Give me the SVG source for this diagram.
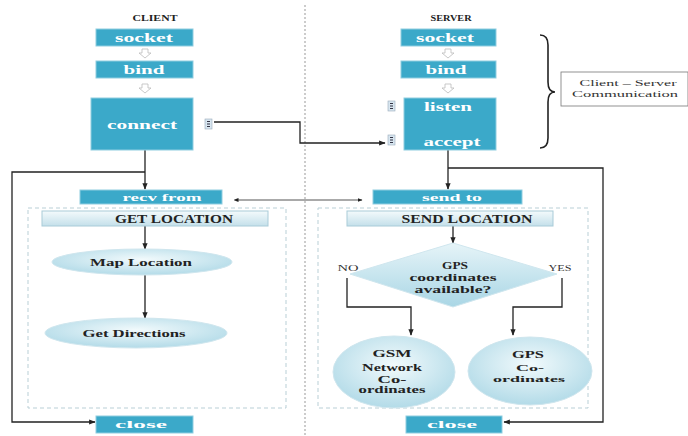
<svg xmlns="http://www.w3.org/2000/svg" width="688" height="436" viewBox="0 0 688 436">
<defs>
<linearGradient id="ban" x1="0" y1="0" x2="0" y2="1"><stop offset="0" stop-color="#f4fafc"/><stop offset="1" stop-color="#c4e0ea"/></linearGradient>
<radialGradient id="ell" cx="0.5" cy="0.4" r="0.6"><stop offset="0" stop-color="#f2fafc"/><stop offset="1" stop-color="#b3dbe8"/></radialGradient>
<linearGradient id="dia" x1="0" y1="0" x2="0" y2="1"><stop offset="0" stop-color="#e6f4f8"/><stop offset="1" stop-color="#a9d6e5"/></linearGradient>
<marker id="ah" viewBox="0 0 10 10" refX="9" refY="5" markerWidth="5" markerHeight="5" orient="auto"><path d="M0,1 L10,5 L0,9 Z" fill="#222"/></marker>
<marker id="ahs" viewBox="0 0 10 10" refX="1" refY="5" markerWidth="5" markerHeight="5" orient="auto-start-reverse"><path d="M0,1 L10,5 L0,9 Z" fill="#222"/></marker>
<g id="port"><rect x="0" y="0" width="7" height="10" fill="#d8e6f0" stroke="#9ab" stroke-width="0.6"/><path d="M2,2.5h3M2,5h3M2,7.5h3" stroke="#334" stroke-width="1"/></g>
<g id="hol"><path d="M-3,0 h6 v4 h3 l-6,5 l-6,-5 h3 z" fill="#fff" stroke="#bbb" stroke-width="0.8"/></g>
</defs>
<style>
.box{fill:#3ba9c9;stroke:#8fcde0;stroke-width:1}
text{font-family:"Liberation Serif",serif;text-anchor:middle}
.bt{font-weight:bold;font-size:12px;fill:#fff}
.lt{font-weight:bold;font-size:10px;fill:#222}
.ht{font-weight:bold;font-size:8px;fill:#222}
.nt{font-size:9px;fill:#333}
.ban{fill:url(#ban);stroke:#a9cbd8;stroke-width:1}
.ell{fill:url(#ell);stroke:#cfe6ee;stroke-width:1}
.cont{fill:none;stroke:#b9cfd6;stroke-width:1;stroke-dasharray:4 3}
.ln{fill:none;stroke:#222;stroke-width:1.3}
</style>
<line x1="305" y1="5" x2="305" y2="436" stroke="#999" stroke-width="1" stroke-dasharray="2 2"/>
<rect class="cont" x="28" y="208" width="258" height="200"/>
<rect class="cont" x="318" y="208" width="270" height="200"/>
<text class="ht" x="155" y="21" textLength="45" lengthAdjust="spacingAndGlyphs">CLIENT</text>
<text class="ht" x="451" y="21" textLength="41" lengthAdjust="spacingAndGlyphs">SERVER</text>
<g id="connectors">
<use href="#hol" x="145" y="49"/>
<use href="#hol" x="145" y="84"/>
<use href="#hol" x="448" y="49"/>
<use href="#hol" x="448" y="84"/>
<path class="ln" d="M214,122 H300 V143 H385" marker-end="url(#ah)"/>
<path class="ln" d="M145,150 V189" marker-end="url(#ah)"/>
<path class="ln" d="M145,172 H12 V422 H95" marker-end="url(#ah)"/>
<path class="ln" d="M448,150 V189" marker-end="url(#ah)"/>
<path class="ln" d="M448,168 H603 V422 H504" marker-end="url(#ah)"/>
<path d="M238,200 H362" fill="none" stroke="#555" stroke-width="1" marker-start="url(#ahs)" marker-end="url(#ah)"/>
<path class="ln" d="M145,226 V249" marker-end="url(#ah)"/>
<path class="ln" d="M145,275 V318" marker-end="url(#ah)"/>
<path class="ln" d="M453,226 V243" marker-end="url(#ah)"/>
<path class="ln" d="M347,278 V307 H411 V335" marker-end="url(#ah)"/>
<path class="ln" d="M562,278 V307 H513 V335" marker-end="url(#ah)"/>
</g>
<g id="c-socket"><rect class="box" x="96" y="29" width="97" height="17"/><text class="bt" x="144" y="42" textLength="58" lengthAdjust="spacingAndGlyphs">socket</text></g>
<g id="c-bind"><rect class="box" x="96" y="61" width="97" height="17"/><text class="bt" x="144" y="74" textLength="41" lengthAdjust="spacingAndGlyphs">bind</text></g>
<g id="c-connect"><rect class="box" x="91" y="98" width="102" height="52"/><text class="bt" x="142" y="129" textLength="70" lengthAdjust="spacingAndGlyphs">connect</text><use href="#port" x="205" y="119"/></g>
<g id="s-socket"><rect class="box" x="401" y="29" width="95" height="17"/><text class="bt" x="445" y="42" textLength="58" lengthAdjust="spacingAndGlyphs">socket</text></g>
<g id="s-bind"><rect class="box" x="401" y="61" width="95" height="17"/><text class="bt" x="446" y="74" textLength="41" lengthAdjust="spacingAndGlyphs">bind</text></g>
<g id="s-listen"><rect class="box" x="404" y="98" width="92" height="52"/><text class="bt" x="448" y="111" textLength="48" lengthAdjust="spacingAndGlyphs">listen</text><text class="bt" x="452" y="146" textLength="57" lengthAdjust="spacingAndGlyphs">accept</text><use href="#port" x="388" y="101"/><use href="#port" x="388" y="135"/></g>
<g id="brace"><path d="M540,35 Q548,35 548,45 V82 Q548,92 555,92 Q548,92 548,102 V138 Q548,148 540,148" fill="none" stroke="#222" stroke-width="1.6"/></g>
<g id="note"><rect x="561" y="72" width="127" height="34" fill="#fff" stroke="#777" stroke-width="0.8"/><text class="nt" x="628" y="86" textLength="97" lengthAdjust="spacingAndGlyphs">Client – Server</text><text class="nt" x="625" y="97" textLength="106" lengthAdjust="spacingAndGlyphs">Communication</text></g>
<g id="c-recv"><rect class="box" x="80" y="190" width="142" height="14"/><text class="bt" x="162" y="201" style="font-size:11px" textLength="79" lengthAdjust="spacingAndGlyphs">recv from</text></g>
<g id="s-send"><rect class="box" x="373" y="190" width="149" height="14"/><text class="bt" x="452" y="201" style="font-size:11px" textLength="60" lengthAdjust="spacingAndGlyphs">send to</text></g>
<g id="get-loc"><rect class="ban" x="42" y="211" width="226" height="15"/><text class="lt" x="174" y="223" style="font-size:12px" textLength="118" lengthAdjust="spacingAndGlyphs">GET LOCATION</text></g>
<g id="send-loc"><rect class="ban" x="347" y="211" width="206" height="15"/><text class="lt" x="467" y="223" style="font-size:12px" textLength="131" lengthAdjust="spacingAndGlyphs">SEND LOCATION</text></g>
<g id="map"><ellipse class="ell" cx="142" cy="262" rx="90" ry="13"/><text class="lt" x="141" y="266" style="font-size:11px" textLength="102" lengthAdjust="spacingAndGlyphs">Map Location</text></g>
<g id="dir"><ellipse class="ell" cx="136" cy="333" rx="91" ry="15"/><text class="lt" x="134" y="337" style="font-size:11px" textLength="103" lengthAdjust="spacingAndGlyphs">Get Directions</text></g>
<g id="gps-q"><polygon points="453,243 557,274 453,307 350,274" fill="url(#dia)" stroke="#cfe6ee"/><text class="lt" x="455" y="269" textLength="26" lengthAdjust="spacingAndGlyphs">GPS</text><text class="lt" x="453" y="281" textLength="87" lengthAdjust="spacingAndGlyphs">coordinates</text><text class="lt" x="453" y="293" textLength="77" lengthAdjust="spacingAndGlyphs">available?</text></g>
<text class="nt" x="348" y="271" textLength="21" lengthAdjust="spacingAndGlyphs">NO</text>
<text class="nt" x="560" y="271" textLength="23" lengthAdjust="spacingAndGlyphs">YES</text>
<g id="gsm"><ellipse class="ell" cx="394" cy="372" rx="61" ry="36"/><text class="lt" x="392" y="357" textLength="39" lengthAdjust="spacingAndGlyphs">GSM</text><text class="lt" x="392" y="371" textLength="60" lengthAdjust="spacingAndGlyphs">Network</text><text class="lt" x="392" y="383" textLength="29" lengthAdjust="spacingAndGlyphs">Co-</text><text class="lt" x="392" y="393" textLength="67" lengthAdjust="spacingAndGlyphs">ordinates</text></g>
<g id="gps"><ellipse class="ell" cx="530" cy="371" rx="62" ry="34"/><text class="lt" x="528" y="358" textLength="32" lengthAdjust="spacingAndGlyphs">GPS</text><text class="lt" x="530" y="371" style="font-size:9px" textLength="28" lengthAdjust="spacingAndGlyphs">Co-</text><text class="lt" x="529" y="382" style="font-size:9px" textLength="72" lengthAdjust="spacingAndGlyphs">ordinates</text></g>
<g id="c-close"><rect class="box" x="96" y="416" width="97" height="17"/><text class="bt" x="141" y="428" style="font-size:11px" textLength="52" lengthAdjust="spacingAndGlyphs">close</text></g>
<g id="s-close"><rect class="box" x="406" y="416" width="96" height="17"/><text class="bt" x="452" y="428" style="font-size:11px" textLength="50" lengthAdjust="spacingAndGlyphs">close</text></g>
</svg>
